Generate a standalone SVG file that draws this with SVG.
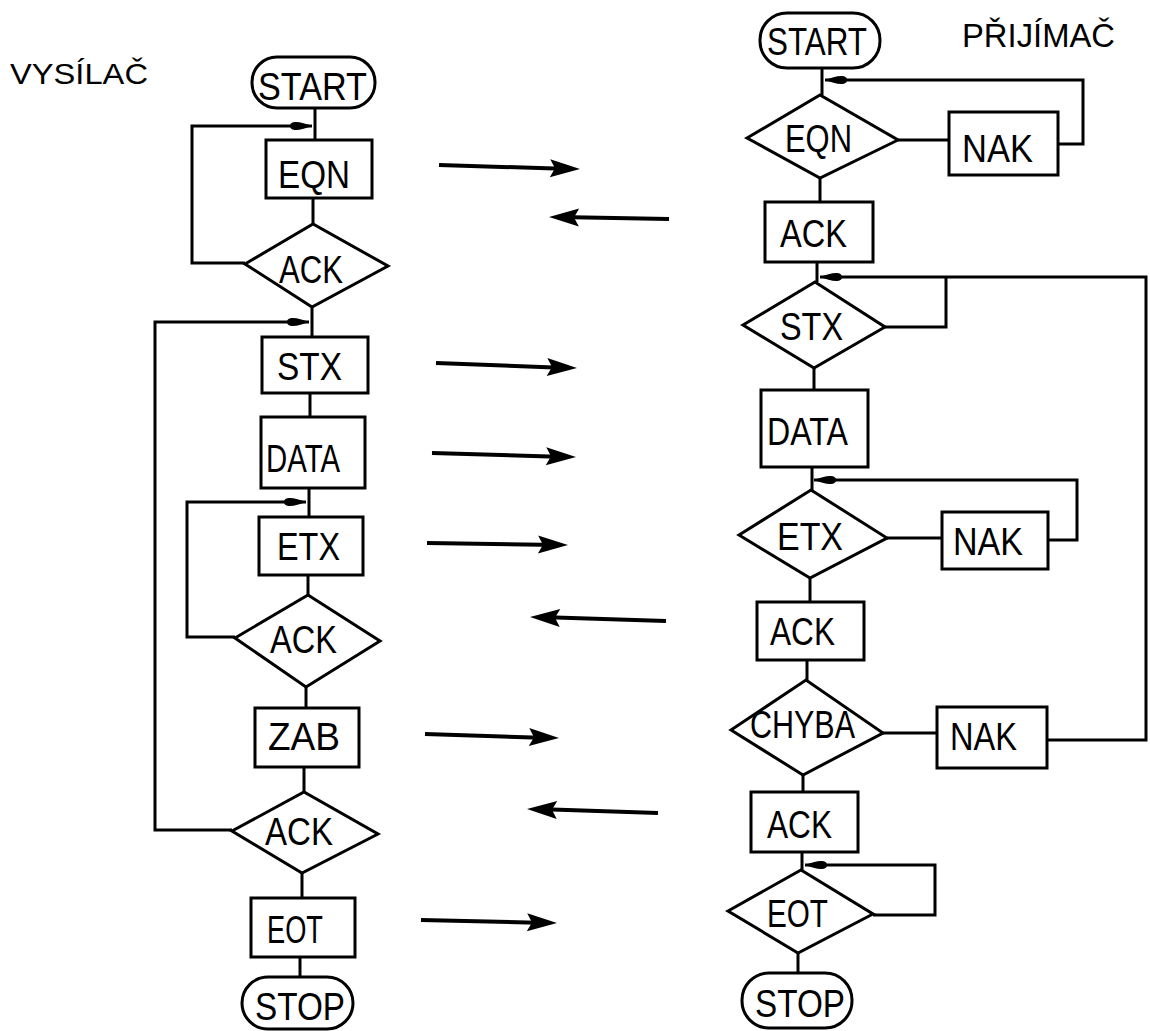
<svg xmlns="http://www.w3.org/2000/svg" xmlns:xlink="http://www.w3.org/1999/xlink" width="1150" height="1031" viewBox="0 0 1150 1031">
<defs>
<style>
.s{fill:#fff;stroke:#000;stroke-width:3;stroke-linejoin:miter}
.c{fill:none;stroke:#000;stroke-width:3}
.a{fill:none;stroke:#000;stroke-width:4}
.t{font-family:"Liberation Sans","DejaVu Sans",sans-serif;font-size:39px;fill:#000;text-anchor:middle}
.h{font-family:"Liberation Sans","DejaVu Sans",sans-serif;fill:#000}
</style>
<path id="ah" d="M0,0 L-30,-9 L-25,0 L-30,9 z" fill="#000"/>
<path id="sh" d="M0,0 C-10,-4 -22,-6.5 -22,0 C-22,6.5 -10,4 0,0 z" fill="#000"/>
</defs>
<rect width="1150" height="1031" fill="#fff"/>

<g id="connectors">
<path class="c" d="M315,108 V140"/>
<path class="c" d="M313,198 V224"/>
<path class="c" d="M312,307 V337"/>
<path class="c" d="M310,393 V417"/>
<path class="c" d="M309,488 V517"/>
<path class="c" d="M308,575 V595"/>
<path class="c" d="M306,687 V708"/>
<path class="c" d="M304,767 V792"/>
<path class="c" d="M302,873 V898"/>
<path class="c" d="M300,957 V977"/>
<path class="c" d="M245,263 H192 V126 H312"/>
<path class="c" d="M232,830 H155 V322 H309"/>
<path class="c" d="M235,637 H187 V502 H306"/>
<use xlink:href="#sh" href="#sh" transform="translate(312,126)"/>
<use xlink:href="#sh" href="#sh" transform="translate(309,322)"/>
<use xlink:href="#sh" href="#sh" transform="translate(306,502)"/>
<path class="c" d="M822,68 V95"/>
<path class="c" d="M898,140 H949"/>
<path class="c" d="M820,178 V202"/>
<path class="c" d="M817,262 V282"/>
<path class="c" d="M814,368 V390"/>
<path class="c" d="M812,467 V490"/>
<path class="c" d="M887,538 H942"/>
<path class="c" d="M810,578 V602"/>
<path class="c" d="M807,660 V680"/>
<path class="c" d="M883,733 H937"/>
<path class="c" d="M803,775 V792"/>
<path class="c" d="M802,852 V870"/>
<path class="c" d="M798,953 V973"/>
<path class="c" d="M1058,144 H1083 V80 H825"/>
<path class="c" d="M1047,740 H1146 V277 H820"/>
<path class="c" d="M885,327 H946 V277"/>
<path class="c" d="M1048,540 H1077 V480 H814"/>
<path class="c" d="M873,915 H935 V865 H805"/>
<use xlink:href="#sh" href="#sh" transform="translate(825,80) rotate(180)"/>
<use xlink:href="#sh" href="#sh" transform="translate(820,277) rotate(180)"/>
<use xlink:href="#sh" href="#sh" transform="translate(814,480) rotate(180)"/>
<use xlink:href="#sh" href="#sh" transform="translate(805,865) rotate(180)"/>
<path class="a" d="M439,165 L570,169"/>
<use xlink:href="#ah" href="#ah" transform="translate(580,169) rotate(1.62)"/>
<path class="a" d="M669,219 L559,217"/>
<use xlink:href="#ah" href="#ah" transform="translate(549,217) rotate(180.95)"/>
<path class="a" d="M436,363 L567,368"/>
<use xlink:href="#ah" href="#ah" transform="translate(577,368) rotate(2.03)"/>
<path class="a" d="M432,453 L566,457"/>
<use xlink:href="#ah" href="#ah" transform="translate(576,457) rotate(1.59)"/>
<path class="a" d="M427,543 L558,545"/>
<use xlink:href="#ah" href="#ah" transform="translate(568,545) rotate(0.81)"/>
<path class="a" d="M666,621 L540,617"/>
<use xlink:href="#ah" href="#ah" transform="translate(530,617) rotate(181.68)"/>
<path class="a" d="M425,734 L549,738"/>
<use xlink:href="#ah" href="#ah" transform="translate(559,738) rotate(1.71)"/>
<path class="a" d="M658,813 L537,809"/>
<use xlink:href="#ah" href="#ah" transform="translate(527,809) rotate(181.75)"/>
<path class="a" d="M421,920 L547,923"/>
<use xlink:href="#ah" href="#ah" transform="translate(557,923) rotate(1.26)"/>
</g>

<g id="title-left"><text class="h" x="10" y="84" font-size="30" textLength="138" lengthAdjust="spacingAndGlyphs">VYSÍLAČ</text></g>
<g id="title-right"><text class="h" x="962" y="47" font-size="33" textLength="153" lengthAdjust="spacingAndGlyphs">PŘIJÍMAČ</text></g>

<g id="l-start"><rect class="s" x="252" y="57" width="123" height="51" rx="25"/><text class="t" x="312.5" y="100" textLength="109" lengthAdjust="spacingAndGlyphs">START</text></g>
<g id="l-eqn"><rect class="s" x="266" y="140" width="106" height="58"/><text class="t" x="314" y="188" textLength="72" lengthAdjust="spacingAndGlyphs">EQN</text></g>
<g id="l-ack1"><polygon class="s" points="245,264 313,224 388,266 312,307"/><text class="t" x="311" y="283" textLength="64" lengthAdjust="spacingAndGlyphs">ACK</text></g>
<g id="l-stx"><rect class="s" x="262" y="337" width="106" height="56"/><text class="t" x="309.5" y="380" textLength="65" lengthAdjust="spacingAndGlyphs">STX</text></g>
<g id="l-data"><rect class="s" x="261" y="417" width="104" height="71"/><text class="t" x="303" y="472" textLength="74" lengthAdjust="spacingAndGlyphs">DATA</text></g>
<g id="l-etx"><rect class="s" x="259" y="517" width="104" height="58"/><text class="t" x="308.5" y="560" textLength="63" lengthAdjust="spacingAndGlyphs">ETX</text></g>
<g id="l-ack2"><polygon class="s" points="235,638 308,595 380,641 306,687"/><text class="t" x="303.5" y="653" textLength="67" lengthAdjust="spacingAndGlyphs">ACK</text></g>
<g id="l-zab"><rect class="s" x="255" y="708" width="104" height="59"/><text class="t" x="304" y="750" textLength="72" lengthAdjust="spacingAndGlyphs">ZAB</text></g>
<g id="l-ack3"><polygon class="s" points="232,831 304,792 378,834 302,873"/><text class="t" x="299" y="845" textLength="68" lengthAdjust="spacingAndGlyphs">ACK</text></g>
<g id="l-eot"><rect class="s" x="251" y="898" width="104" height="59"/><text class="t" x="295" y="943" textLength="56" lengthAdjust="spacingAndGlyphs">EOT</text></g>
<g id="l-stop"><rect class="s" x="242" y="977" width="111" height="52" rx="26"/><text class="t" x="300" y="1020" textLength="90" lengthAdjust="spacingAndGlyphs">STOP</text></g>

<g id="r-start"><rect class="s" x="760" y="13" width="120" height="55" rx="27"/><text class="t" x="817" y="55" textLength="100" lengthAdjust="spacingAndGlyphs">START</text></g>
<g id="r-eqn"><polygon class="s" points="747,138 820,95 898,140 820,178"/><text class="t" x="818.5" y="152" textLength="67" lengthAdjust="spacingAndGlyphs">EQN</text></g>
<g id="r-nak1"><rect class="s" x="949" y="112" width="109" height="63"/><text class="t" x="997.5" y="162" textLength="71" lengthAdjust="spacingAndGlyphs">NAK</text></g>
<g id="r-ack1"><rect class="s" x="765" y="202" width="108" height="60"/><text class="t" x="813.5" y="247" textLength="67" lengthAdjust="spacingAndGlyphs">ACK</text></g>
<g id="r-stx"><polygon class="s" points="743,325 815,282 885,327 814,368"/><text class="t" x="811.5" y="340" textLength="63" lengthAdjust="spacingAndGlyphs">STX</text></g>
<g id="r-data"><rect class="s" x="761" y="390" width="107" height="77"/><text class="t" x="807.5" y="445" textLength="81" lengthAdjust="spacingAndGlyphs">DATA</text></g>
<g id="r-etx"><polygon class="s" points="739,535 811,490 887,538 810,578"/><text class="t" x="810" y="550" textLength="66" lengthAdjust="spacingAndGlyphs">ETX</text></g>
<g id="r-nak2"><rect class="s" x="942" y="512" width="106" height="57"/><text class="t" x="988" y="555" textLength="70" lengthAdjust="spacingAndGlyphs">NAK</text></g>
<g id="r-ack2"><rect class="s" x="757" y="602" width="107" height="58"/><text class="t" x="802.5" y="645" textLength="65" lengthAdjust="spacingAndGlyphs">ACK</text></g>
<g id="r-chyba"><polygon class="s" points="731,730 806,680 883,733 803,775"/><text class="t" x="802.5" y="738" textLength="105" lengthAdjust="spacingAndGlyphs">CHYBA</text></g>
<g id="r-nak3"><rect class="s" x="937" y="707" width="110" height="61"/><text class="t" x="983.5" y="750" textLength="67" lengthAdjust="spacingAndGlyphs">NAK</text></g>
<g id="r-ack3"><rect class="s" x="751" y="792" width="107" height="60"/><text class="t" x="799.5" y="838" textLength="65" lengthAdjust="spacingAndGlyphs">ACK</text></g>
<g id="r-eot"><polygon class="s" points="728,911 801,870 873,914 798,953"/><text class="t" x="797.5" y="927" textLength="61" lengthAdjust="spacingAndGlyphs">EOT</text></g>
<g id="r-stop"><rect class="s" x="742" y="973" width="110" height="55" rx="27"/><text class="t" x="800" y="1017" textLength="90" lengthAdjust="spacingAndGlyphs">STOP</text></g>
</svg>
